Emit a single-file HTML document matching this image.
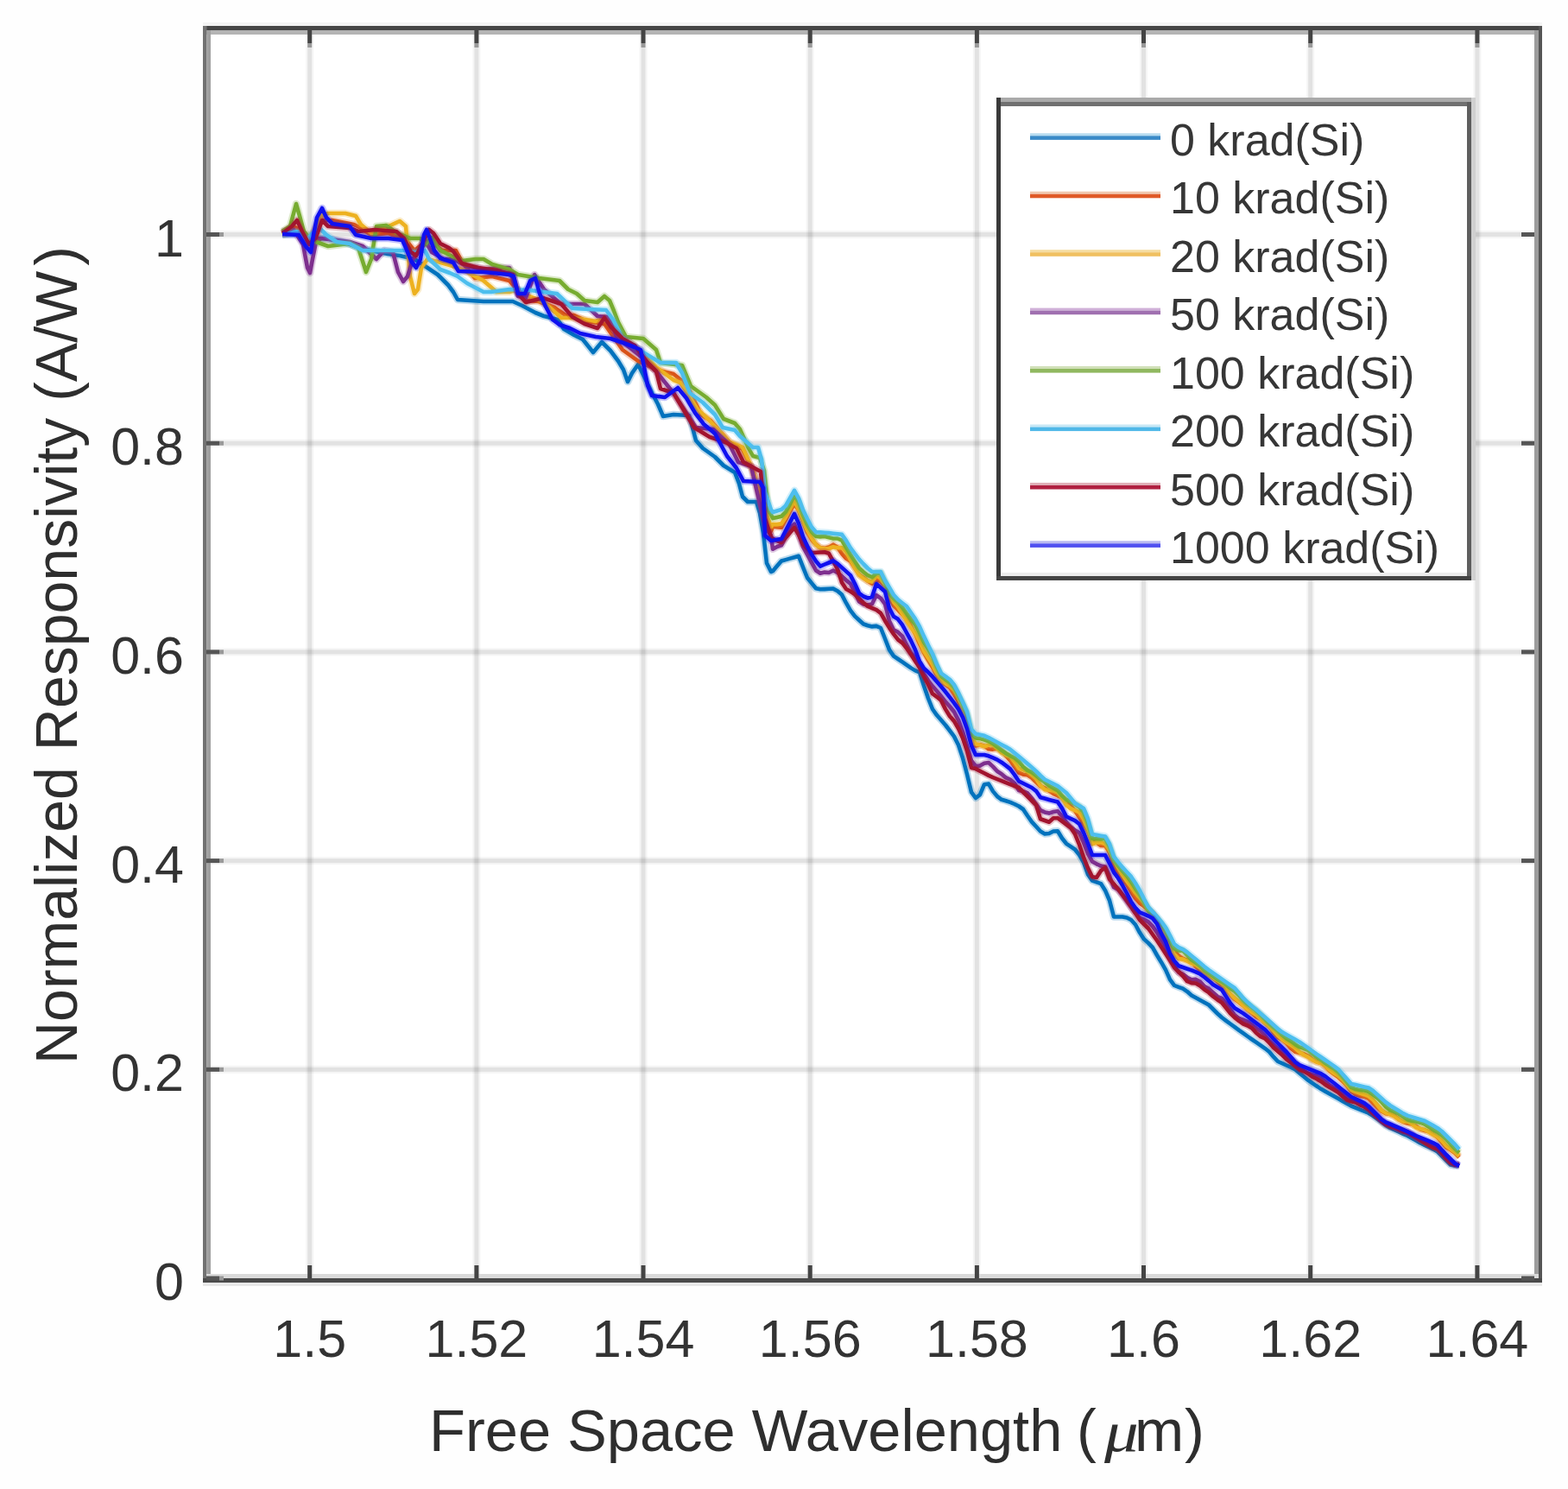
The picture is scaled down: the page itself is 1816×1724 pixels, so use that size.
<!DOCTYPE html><html><head><meta charset="utf-8"><style>html,body{margin:0;padding:0;background:#fff;overflow:hidden}svg{display:block}</style></head><body><svg width="1816" height="1724" viewBox="0 0 1816 1724">
<rect x="0" y="0" width="1816" height="1724" fill="#fefefe"/>
<rect x="239" y="35" width="1543" height="1445" fill="#ffffff"/>
<rect x="354.2" y="40" width="9" height="1435" fill="#000" fill-opacity="0.04"/><rect x="356.2" y="40" width="5" height="1435" fill="#000" fill-opacity="0.075"/><rect x="547.4" y="40" width="9" height="1435" fill="#000" fill-opacity="0.04"/><rect x="549.4" y="40" width="5" height="1435" fill="#000" fill-opacity="0.075"/><rect x="740.5" y="40" width="9" height="1435" fill="#000" fill-opacity="0.04"/><rect x="742.5" y="40" width="5" height="1435" fill="#000" fill-opacity="0.075"/><rect x="933.7" y="40" width="9" height="1435" fill="#000" fill-opacity="0.04"/><rect x="935.7" y="40" width="5" height="1435" fill="#000" fill-opacity="0.075"/><rect x="1126.9" y="40" width="9" height="1435" fill="#000" fill-opacity="0.04"/><rect x="1128.9" y="40" width="5" height="1435" fill="#000" fill-opacity="0.075"/><rect x="1320.0" y="40" width="9" height="1435" fill="#000" fill-opacity="0.04"/><rect x="1322.0" y="40" width="5" height="1435" fill="#000" fill-opacity="0.075"/><rect x="1513.2" y="40" width="9" height="1435" fill="#000" fill-opacity="0.04"/><rect x="1515.2" y="40" width="5" height="1435" fill="#000" fill-opacity="0.075"/><rect x="1706.4" y="40" width="9" height="1435" fill="#000" fill-opacity="0.04"/><rect x="1708.4" y="40" width="5" height="1435" fill="#000" fill-opacity="0.075"/><rect x="244" y="1233.8" width="1533" height="9" fill="#000" fill-opacity="0.04"/><rect x="244" y="1235.8" width="1533" height="5" fill="#000" fill-opacity="0.075"/><rect x="244" y="992.1" width="1533" height="9" fill="#000" fill-opacity="0.04"/><rect x="244" y="994.1" width="1533" height="5" fill="#000" fill-opacity="0.075"/><rect x="244" y="750.4" width="1533" height="9" fill="#000" fill-opacity="0.04"/><rect x="244" y="752.4" width="1533" height="5" fill="#000" fill-opacity="0.075"/><rect x="244" y="508.7" width="1533" height="9" fill="#000" fill-opacity="0.04"/><rect x="244" y="510.7" width="1533" height="5" fill="#000" fill-opacity="0.075"/><rect x="244" y="267.0" width="1533" height="9" fill="#000" fill-opacity="0.04"/><rect x="244" y="269.0" width="1533" height="5" fill="#000" fill-opacity="0.075"/>
<g><path d="M327.0,272.0 L345.0,270.0 L358.0,278.0 L367.0,276.0 L378.0,276.0 L400.0,281.0 L420.0,288.0 L449.0,294.0 L463.0,296.0 L480.0,300.0 L495.0,310.0 L507.0,318.0 L513.0,324.0 L519.0,330.0 L525.0,338.0 L530.0,347.0 L560.0,349.0 L594.0,349.0 L605.0,354.0 L620.0,362.0 L630.0,366.0 L646.0,370.0 L653.0,381.0 L665.0,388.0 L675.0,393.0 L687.0,408.0 L697.0,396.0 L707.0,406.0 L716.0,418.0 L722.0,428.0 L727.0,442.0 L732.0,432.0 L739.0,422.0 L748.0,440.0 L755.0,455.0 L762.0,468.0 L768.0,482.0 L780.0,480.0 L798.0,481.0 L802.0,495.0 L806.0,510.0 L814.0,519.0 L828.0,529.0 L838.0,539.0 L851.0,547.0 L856.0,560.0 L860.0,575.0 L866.0,581.0 L876.0,581.0 L880.0,594.0 L884.0,617.0 L888.0,652.0 L893.0,662.0 L895.0,661.2 L900.0,655.3 L905.0,649.5 L910.0,648.1 L915.0,646.6 L920.0,645.2 L925.0,643.8 L930.0,656.6 L935.0,669.0 L940.0,675.1 L945.0,681.3 L950.0,682.3 L955.0,682.1 L960.0,681.8 L965.0,681.6 L970.0,684.2 L975.0,688.6 L980.0,698.2 L985.0,706.8 L990.0,713.4 L995.0,718.0 L1000.0,722.5 L1005.0,724.2 L1010.0,725.4 L1015.0,724.9 L1020.0,727.0 L1025.0,739.5 L1030.0,752.4 L1035.0,759.6 L1040.0,763.0 L1045.0,766.4 L1050.0,769.9 L1055.0,773.4 L1060.0,776.4 L1065.0,778.5 L1070.0,794.1 L1075.0,808.5 L1080.0,821.0 L1085.0,828.1 L1090.0,833.8 L1095.0,839.5 L1100.0,846.0 L1105.0,852.6 L1110.0,862.5 L1115.0,877.5 L1120.0,896.5 L1125.0,917.1 L1130.0,924.0 L1135.0,920.2 L1140.0,908.2 L1145.0,907.6 L1150.0,916.1 L1155.0,922.1 L1160.0,925.8 L1165.0,927.3 L1170.0,928.9 L1175.0,931.0 L1180.0,933.5 L1185.0,937.0 L1190.0,944.5 L1195.0,951.6 L1200.0,957.0 L1205.0,962.5 L1210.0,965.4 L1215.0,965.0 L1220.0,962.5 L1225.0,962.2 L1230.0,970.5 L1235.0,976.8 L1240.0,980.2 L1245.0,983.5 L1250.0,989.8 L1255.0,998.5 L1260.0,1012.5 L1265.0,1019.6 L1270.0,1021.4 L1275.0,1023.1 L1280.0,1030.9 L1285.0,1042.5 L1290.0,1061.5 L1295.0,1061.5 L1300.0,1061.5 L1305.0,1062.5 L1310.0,1065.0 L1315.0,1070.5 L1320.0,1079.8 L1325.0,1087.4 L1330.0,1091.9 L1335.0,1097.2 L1340.0,1106.0 L1345.0,1114.2 L1350.0,1122.9 L1355.0,1134.1 L1360.0,1140.9 L1365.0,1142.8 L1370.0,1144.7 L1375.0,1148.1 L1380.0,1152.5 L1385.0,1155.2 L1390.0,1158.0 L1395.0,1160.8 L1400.0,1163.5 L1405.0,1168.5 L1410.0,1173.5 L1415.0,1178.0 L1420.0,1181.8 L1425.0,1185.5 L1430.0,1189.2 L1435.0,1192.9 L1440.0,1196.4 L1445.0,1200.0 L1450.0,1203.5 L1455.0,1206.9 L1460.0,1210.3 L1465.0,1213.8 L1470.0,1217.7 L1475.0,1223.7 L1480.0,1229.0 L1485.0,1231.2 L1490.0,1233.5 L1495.0,1235.7 L1500.0,1238.3 L1505.0,1242.4 L1510.0,1246.6 L1515.0,1250.7 L1520.0,1254.2 L1525.0,1257.5 L1530.0,1260.8 L1535.0,1263.7 L1540.0,1266.5 L1545.0,1269.3 L1550.0,1272.1 L1555.0,1274.9 L1560.0,1277.7 L1565.0,1280.5 L1570.0,1282.5 L1575.0,1284.6 L1580.0,1286.6 L1585.0,1288.7 L1590.0,1291.8 L1595.0,1295.5 L1600.0,1299.2 L1605.0,1303.0 L1610.0,1305.9 L1615.0,1308.2 L1620.0,1310.5 L1625.0,1312.8 L1630.0,1315.0 L1635.0,1317.8 L1640.0,1320.6 L1645.0,1323.5 L1650.0,1325.9 L1655.0,1328.2 L1660.0,1330.6 L1665.0,1333.5 L1670.0,1338.5 L1675.0,1343.5 L1680.0,1348.5 L1685.0,1349.5 L1690.0,1349.5" fill="none" stroke="#0072BD" stroke-opacity="0.25" stroke-width="8.5" stroke-linejoin="round"/><path d="M327.0,272.0 L345.0,270.0 L358.0,278.0 L367.0,276.0 L378.0,276.0 L400.0,281.0 L420.0,288.0 L449.0,294.0 L463.0,296.0 L480.0,300.0 L495.0,310.0 L507.0,318.0 L513.0,324.0 L519.0,330.0 L525.0,338.0 L530.0,347.0 L560.0,349.0 L594.0,349.0 L605.0,354.0 L620.0,362.0 L630.0,366.0 L646.0,370.0 L653.0,381.0 L665.0,388.0 L675.0,393.0 L687.0,408.0 L697.0,396.0 L707.0,406.0 L716.0,418.0 L722.0,428.0 L727.0,442.0 L732.0,432.0 L739.0,422.0 L748.0,440.0 L755.0,455.0 L762.0,468.0 L768.0,482.0 L780.0,480.0 L798.0,481.0 L802.0,495.0 L806.0,510.0 L814.0,519.0 L828.0,529.0 L838.0,539.0 L851.0,547.0 L856.0,560.0 L860.0,575.0 L866.0,581.0 L876.0,581.0 L880.0,594.0 L884.0,617.0 L888.0,652.0 L893.0,662.0 L895.0,661.2 L900.0,655.3 L905.0,649.5 L910.0,648.1 L915.0,646.6 L920.0,645.2 L925.0,643.8 L930.0,656.6 L935.0,669.0 L940.0,675.1 L945.0,681.3 L950.0,682.3 L955.0,682.1 L960.0,681.8 L965.0,681.6 L970.0,684.2 L975.0,688.6 L980.0,698.2 L985.0,706.8 L990.0,713.4 L995.0,718.0 L1000.0,722.5 L1005.0,724.2 L1010.0,725.4 L1015.0,724.9 L1020.0,727.0 L1025.0,739.5 L1030.0,752.4 L1035.0,759.6 L1040.0,763.0 L1045.0,766.4 L1050.0,769.9 L1055.0,773.4 L1060.0,776.4 L1065.0,778.5 L1070.0,794.1 L1075.0,808.5 L1080.0,821.0 L1085.0,828.1 L1090.0,833.8 L1095.0,839.5 L1100.0,846.0 L1105.0,852.6 L1110.0,862.5 L1115.0,877.5 L1120.0,896.5 L1125.0,917.1 L1130.0,924.0 L1135.0,920.2 L1140.0,908.2 L1145.0,907.6 L1150.0,916.1 L1155.0,922.1 L1160.0,925.8 L1165.0,927.3 L1170.0,928.9 L1175.0,931.0 L1180.0,933.5 L1185.0,937.0 L1190.0,944.5 L1195.0,951.6 L1200.0,957.0 L1205.0,962.5 L1210.0,965.4 L1215.0,965.0 L1220.0,962.5 L1225.0,962.2 L1230.0,970.5 L1235.0,976.8 L1240.0,980.2 L1245.0,983.5 L1250.0,989.8 L1255.0,998.5 L1260.0,1012.5 L1265.0,1019.6 L1270.0,1021.4 L1275.0,1023.1 L1280.0,1030.9 L1285.0,1042.5 L1290.0,1061.5 L1295.0,1061.5 L1300.0,1061.5 L1305.0,1062.5 L1310.0,1065.0 L1315.0,1070.5 L1320.0,1079.8 L1325.0,1087.4 L1330.0,1091.9 L1335.0,1097.2 L1340.0,1106.0 L1345.0,1114.2 L1350.0,1122.9 L1355.0,1134.1 L1360.0,1140.9 L1365.0,1142.8 L1370.0,1144.7 L1375.0,1148.1 L1380.0,1152.5 L1385.0,1155.2 L1390.0,1158.0 L1395.0,1160.8 L1400.0,1163.5 L1405.0,1168.5 L1410.0,1173.5 L1415.0,1178.0 L1420.0,1181.8 L1425.0,1185.5 L1430.0,1189.2 L1435.0,1192.9 L1440.0,1196.4 L1445.0,1200.0 L1450.0,1203.5 L1455.0,1206.9 L1460.0,1210.3 L1465.0,1213.8 L1470.0,1217.7 L1475.0,1223.7 L1480.0,1229.0 L1485.0,1231.2 L1490.0,1233.5 L1495.0,1235.7 L1500.0,1238.3 L1505.0,1242.4 L1510.0,1246.6 L1515.0,1250.7 L1520.0,1254.2 L1525.0,1257.5 L1530.0,1260.8 L1535.0,1263.7 L1540.0,1266.5 L1545.0,1269.3 L1550.0,1272.1 L1555.0,1274.9 L1560.0,1277.7 L1565.0,1280.5 L1570.0,1282.5 L1575.0,1284.6 L1580.0,1286.6 L1585.0,1288.7 L1590.0,1291.8 L1595.0,1295.5 L1600.0,1299.2 L1605.0,1303.0 L1610.0,1305.9 L1615.0,1308.2 L1620.0,1310.5 L1625.0,1312.8 L1630.0,1315.0 L1635.0,1317.8 L1640.0,1320.6 L1645.0,1323.5 L1650.0,1325.9 L1655.0,1328.2 L1660.0,1330.6 L1665.0,1333.5 L1670.0,1338.5 L1675.0,1343.5 L1680.0,1348.5 L1685.0,1349.5 L1690.0,1349.5" fill="none" stroke="#0072BD" stroke-width="4.6" stroke-linejoin="round"/><path d="M327.0,270.0 L340.0,262.0 L350.0,268.0 L358.0,282.0 L366.0,264.0 L373.0,255.0 L385.0,255.0 L410.0,260.0 L418.0,264.0 L430.0,272.0 L450.0,270.0 L470.0,278.0 L480.0,290.0 L490.0,282.0 L500.0,280.0 L512.0,290.0 L528.0,290.0 L536.0,305.0 L550.0,322.0 L570.0,320.0 L590.0,325.0 L609.0,348.0 L624.0,349.0 L642.0,356.0 L655.0,365.0 L665.0,365.0 L680.0,372.0 L700.0,375.0 L721.0,405.0 L739.0,418.0 L760.0,428.0 L780.0,433.0 L795.0,445.0 L812.0,480.0 L823.0,487.0 L845.0,512.0 L860.0,520.0 L872.0,545.0 L886.0,600.0 L893.0,615.0 L895.0,609.8 L900.0,610.1 L905.0,610.7 L910.0,601.7 L915.0,592.0 L920.0,583.4 L925.0,590.7 L930.0,604.1 L935.0,616.0 L940.0,624.7 L945.0,630.4 L950.0,634.3 L955.0,634.9 L960.0,633.6 L965.0,630.6 L970.0,633.8 L975.0,641.0 L980.0,646.6 L985.0,649.7 L990.0,657.4 L995.0,665.3 L1000.0,668.6 L1005.0,672.6 L1010.0,675.9 L1015.0,671.0 L1020.0,673.4 L1025.0,678.9 L1030.0,691.7 L1035.0,700.8 L1040.0,706.1 L1045.0,711.5 L1050.0,716.8 L1055.0,724.8 L1060.0,734.2 L1065.0,745.6 L1070.0,755.7 L1075.0,764.4 L1080.0,772.6 L1085.0,781.5 L1090.0,789.7 L1095.0,792.5 L1100.0,796.1 L1105.0,803.4 L1110.0,812.5 L1115.0,823.5 L1120.0,837.4 L1125.0,857.4 L1130.0,863.5 L1135.0,862.2 L1140.0,863.7 L1145.0,867.3 L1150.0,867.6 L1155.0,866.8 L1160.0,869.6 L1165.0,875.0 L1170.0,880.5 L1175.0,887.3 L1180.0,894.7 L1185.0,896.7 L1190.0,897.3 L1195.0,900.5 L1200.0,905.5 L1205.0,910.3 L1210.0,912.4 L1215.0,915.7 L1220.0,918.9 L1225.0,921.3 L1230.0,923.3 L1235.0,927.4 L1240.0,933.1 L1245.0,938.8 L1250.0,946.1 L1255.0,954.2 L1260.0,962.2 L1265.0,974.4 L1270.0,975.7 L1275.0,979.0 L1280.0,979.1 L1285.0,986.9 L1290.0,1001.7 L1295.0,1011.1 L1300.0,1017.7 L1305.0,1024.1 L1310.0,1032.4 L1315.0,1040.1 L1320.0,1045.8 L1325.0,1049.2 L1330.0,1053.7 L1335.0,1057.3 L1340.0,1064.5 L1345.0,1075.0 L1350.0,1082.1 L1355.0,1092.4 L1360.0,1100.9 L1365.0,1106.6 L1370.0,1110.0 L1375.0,1111.6 L1380.0,1114.2 L1385.0,1119.0 L1390.0,1123.4 L1395.0,1127.3 L1400.0,1129.4 L1405.0,1132.1 L1410.0,1136.6 L1415.0,1141.0 L1420.0,1146.2 L1425.0,1151.8 L1430.0,1156.9 L1435.0,1160.4 L1440.0,1164.6 L1445.0,1169.0 L1450.0,1172.8 L1455.0,1177.3 L1460.0,1180.0 L1465.0,1182.3 L1470.0,1188.0 L1475.0,1195.7 L1480.0,1201.2 L1485.0,1203.7 L1490.0,1207.9 L1495.0,1213.8 L1500.0,1217.7 L1505.0,1219.1 L1510.0,1220.3 L1515.0,1222.7 L1520.0,1226.5 L1525.0,1229.2 L1530.0,1230.7 L1535.0,1234.5 L1540.0,1239.8 L1545.0,1243.6 L1550.0,1247.0 L1555.0,1251.8 L1560.0,1257.2 L1565.0,1263.7 L1570.0,1267.1 L1575.0,1268.9 L1580.0,1269.6 L1585.0,1271.9 L1590.0,1276.8 L1595.0,1282.0 L1600.0,1286.5 L1605.0,1289.2 L1610.0,1289.9 L1615.0,1291.9 L1620.0,1295.9 L1625.0,1298.8 L1630.0,1300.5 L1635.0,1301.5 L1640.0,1303.9 L1645.0,1307.5 L1650.0,1309.0 L1655.0,1310.2 L1660.0,1313.3 L1665.0,1316.9 L1670.0,1322.4 L1675.0,1328.2 L1680.0,1331.4 L1685.0,1334.8 L1690.0,1339.9" fill="none" stroke="#D95319" stroke-opacity="0.25" stroke-width="8.5" stroke-linejoin="round"/><path d="M327.0,270.0 L340.0,262.0 L350.0,268.0 L358.0,282.0 L366.0,264.0 L373.0,255.0 L385.0,255.0 L410.0,260.0 L418.0,264.0 L430.0,272.0 L450.0,270.0 L470.0,278.0 L480.0,290.0 L490.0,282.0 L500.0,280.0 L512.0,290.0 L528.0,290.0 L536.0,305.0 L550.0,322.0 L570.0,320.0 L590.0,325.0 L609.0,348.0 L624.0,349.0 L642.0,356.0 L655.0,365.0 L665.0,365.0 L680.0,372.0 L700.0,375.0 L721.0,405.0 L739.0,418.0 L760.0,428.0 L780.0,433.0 L795.0,445.0 L812.0,480.0 L823.0,487.0 L845.0,512.0 L860.0,520.0 L872.0,545.0 L886.0,600.0 L893.0,615.0 L895.0,609.8 L900.0,610.1 L905.0,610.7 L910.0,601.7 L915.0,592.0 L920.0,583.4 L925.0,590.7 L930.0,604.1 L935.0,616.0 L940.0,624.7 L945.0,630.4 L950.0,634.3 L955.0,634.9 L960.0,633.6 L965.0,630.6 L970.0,633.8 L975.0,641.0 L980.0,646.6 L985.0,649.7 L990.0,657.4 L995.0,665.3 L1000.0,668.6 L1005.0,672.6 L1010.0,675.9 L1015.0,671.0 L1020.0,673.4 L1025.0,678.9 L1030.0,691.7 L1035.0,700.8 L1040.0,706.1 L1045.0,711.5 L1050.0,716.8 L1055.0,724.8 L1060.0,734.2 L1065.0,745.6 L1070.0,755.7 L1075.0,764.4 L1080.0,772.6 L1085.0,781.5 L1090.0,789.7 L1095.0,792.5 L1100.0,796.1 L1105.0,803.4 L1110.0,812.5 L1115.0,823.5 L1120.0,837.4 L1125.0,857.4 L1130.0,863.5 L1135.0,862.2 L1140.0,863.7 L1145.0,867.3 L1150.0,867.6 L1155.0,866.8 L1160.0,869.6 L1165.0,875.0 L1170.0,880.5 L1175.0,887.3 L1180.0,894.7 L1185.0,896.7 L1190.0,897.3 L1195.0,900.5 L1200.0,905.5 L1205.0,910.3 L1210.0,912.4 L1215.0,915.7 L1220.0,918.9 L1225.0,921.3 L1230.0,923.3 L1235.0,927.4 L1240.0,933.1 L1245.0,938.8 L1250.0,946.1 L1255.0,954.2 L1260.0,962.2 L1265.0,974.4 L1270.0,975.7 L1275.0,979.0 L1280.0,979.1 L1285.0,986.9 L1290.0,1001.7 L1295.0,1011.1 L1300.0,1017.7 L1305.0,1024.1 L1310.0,1032.4 L1315.0,1040.1 L1320.0,1045.8 L1325.0,1049.2 L1330.0,1053.7 L1335.0,1057.3 L1340.0,1064.5 L1345.0,1075.0 L1350.0,1082.1 L1355.0,1092.4 L1360.0,1100.9 L1365.0,1106.6 L1370.0,1110.0 L1375.0,1111.6 L1380.0,1114.2 L1385.0,1119.0 L1390.0,1123.4 L1395.0,1127.3 L1400.0,1129.4 L1405.0,1132.1 L1410.0,1136.6 L1415.0,1141.0 L1420.0,1146.2 L1425.0,1151.8 L1430.0,1156.9 L1435.0,1160.4 L1440.0,1164.6 L1445.0,1169.0 L1450.0,1172.8 L1455.0,1177.3 L1460.0,1180.0 L1465.0,1182.3 L1470.0,1188.0 L1475.0,1195.7 L1480.0,1201.2 L1485.0,1203.7 L1490.0,1207.9 L1495.0,1213.8 L1500.0,1217.7 L1505.0,1219.1 L1510.0,1220.3 L1515.0,1222.7 L1520.0,1226.5 L1525.0,1229.2 L1530.0,1230.7 L1535.0,1234.5 L1540.0,1239.8 L1545.0,1243.6 L1550.0,1247.0 L1555.0,1251.8 L1560.0,1257.2 L1565.0,1263.7 L1570.0,1267.1 L1575.0,1268.9 L1580.0,1269.6 L1585.0,1271.9 L1590.0,1276.8 L1595.0,1282.0 L1600.0,1286.5 L1605.0,1289.2 L1610.0,1289.9 L1615.0,1291.9 L1620.0,1295.9 L1625.0,1298.8 L1630.0,1300.5 L1635.0,1301.5 L1640.0,1303.9 L1645.0,1307.5 L1650.0,1309.0 L1655.0,1310.2 L1660.0,1313.3 L1665.0,1316.9 L1670.0,1322.4 L1675.0,1328.2 L1680.0,1331.4 L1685.0,1334.8 L1690.0,1339.9" fill="none" stroke="#D95319" stroke-width="4.6" stroke-linejoin="round"/><path d="M327.0,272.0 L340.0,268.0 L350.0,272.0 L358.0,280.0 L366.0,262.0 L372.0,250.0 L380.0,247.0 L400.0,247.0 L412.0,250.0 L418.0,260.0 L430.0,270.0 L450.0,262.0 L463.0,256.0 L470.0,262.0 L475.0,320.0 L480.0,340.0 L484.0,335.0 L488.0,310.0 L495.0,300.0 L507.0,303.0 L521.0,307.0 L535.0,312.0 L560.0,325.0 L575.0,338.0 L590.0,338.0 L600.0,335.0 L613.0,343.0 L630.0,350.0 L650.0,368.0 L663.0,368.0 L677.0,370.0 L690.0,372.0 L700.0,368.0 L720.0,390.0 L740.0,405.0 L760.0,425.0 L780.0,440.0 L788.0,443.0 L808.0,474.0 L820.0,485.0 L845.0,512.0 L860.0,518.0 L872.0,545.0 L886.0,590.0 L893.0,610.0 L895.0,607.0 L900.0,607.1 L905.0,606.4 L910.0,598.7 L915.0,588.9 L920.0,579.8 L925.0,589.9 L930.0,604.4 L935.0,613.9 L940.0,622.8 L945.0,630.6 L950.0,634.5 L955.0,635.6 L960.0,635.0 L965.0,633.3 L970.0,634.3 L975.0,634.0 L980.0,638.8 L985.0,647.9 L990.0,657.3 L995.0,665.7 L1000.0,669.5 L1005.0,672.5 L1010.0,673.6 L1015.0,666.1 L1020.0,669.5 L1025.0,678.2 L1030.0,689.7 L1035.0,696.9 L1040.0,702.5 L1045.0,710.5 L1050.0,718.7 L1055.0,726.5 L1060.0,733.1 L1065.0,742.8 L1070.0,754.0 L1075.0,761.7 L1080.0,769.3 L1085.0,780.0 L1090.0,788.8 L1095.0,791.6 L1100.0,794.0 L1105.0,798.7 L1110.0,807.2 L1115.0,819.6 L1120.0,833.9 L1125.0,854.7 L1130.0,861.6 L1135.0,862.6 L1140.0,864.3 L1145.0,862.5 L1150.0,862.3 L1155.0,866.7 L1160.0,871.5 L1165.0,874.0 L1170.0,875.9 L1175.0,882.2 L1180.0,889.8 L1185.0,891.4 L1190.0,893.1 L1195.0,897.2 L1200.0,901.5 L1205.0,909.4 L1210.0,914.2 L1215.0,914.7 L1220.0,915.6 L1225.0,917.5 L1230.0,923.9 L1235.0,932.1 L1240.0,936.1 L1245.0,938.1 L1250.0,940.4 L1255.0,948.3 L1260.0,962.2 L1265.0,977.4 L1270.0,975.4 L1275.0,975.3 L1280.0,977.0 L1285.0,984.3 L1290.0,996.0 L1295.0,1004.7 L1300.0,1013.3 L1305.0,1020.0 L1310.0,1026.4 L1315.0,1033.6 L1320.0,1039.5 L1325.0,1044.9 L1330.0,1052.2 L1335.0,1058.0 L1340.0,1065.0 L1345.0,1074.3 L1350.0,1083.4 L1355.0,1095.4 L1360.0,1105.0 L1365.0,1110.0 L1370.0,1110.6 L1375.0,1112.6 L1380.0,1115.6 L1385.0,1116.9 L1390.0,1120.7 L1395.0,1126.1 L1400.0,1129.6 L1405.0,1132.8 L1410.0,1135.3 L1415.0,1138.6 L1420.0,1145.1 L1425.0,1151.4 L1430.0,1155.8 L1435.0,1159.7 L1440.0,1164.2 L1445.0,1168.9 L1450.0,1172.2 L1455.0,1174.9 L1460.0,1179.7 L1465.0,1184.8 L1470.0,1188.9 L1475.0,1193.9 L1480.0,1199.2 L1485.0,1203.5 L1490.0,1206.7 L1495.0,1209.9 L1500.0,1213.5 L1505.0,1218.0 L1510.0,1221.5 L1515.0,1223.8 L1520.0,1227.1 L1525.0,1229.7 L1530.0,1231.0 L1535.0,1233.9 L1540.0,1238.9 L1545.0,1242.6 L1550.0,1245.6 L1555.0,1250.1 L1560.0,1255.9 L1565.0,1262.1 L1570.0,1263.9 L1575.0,1265.6 L1580.0,1267.2 L1585.0,1269.2 L1590.0,1273.1 L1595.0,1279.2 L1600.0,1285.5 L1605.0,1288.6 L1610.0,1290.1 L1615.0,1292.5 L1620.0,1296.2 L1625.0,1298.5 L1630.0,1298.5 L1635.0,1300.9 L1640.0,1305.3 L1645.0,1307.0 L1650.0,1307.9 L1655.0,1310.8 L1660.0,1313.9 L1665.0,1316.3 L1670.0,1320.8 L1675.0,1326.7 L1680.0,1330.4 L1685.0,1333.9 L1690.0,1338.5" fill="none" stroke="#EDB120" stroke-opacity="0.25" stroke-width="8.5" stroke-linejoin="round"/><path d="M327.0,272.0 L340.0,268.0 L350.0,272.0 L358.0,280.0 L366.0,262.0 L372.0,250.0 L380.0,247.0 L400.0,247.0 L412.0,250.0 L418.0,260.0 L430.0,270.0 L450.0,262.0 L463.0,256.0 L470.0,262.0 L475.0,320.0 L480.0,340.0 L484.0,335.0 L488.0,310.0 L495.0,300.0 L507.0,303.0 L521.0,307.0 L535.0,312.0 L560.0,325.0 L575.0,338.0 L590.0,338.0 L600.0,335.0 L613.0,343.0 L630.0,350.0 L650.0,368.0 L663.0,368.0 L677.0,370.0 L690.0,372.0 L700.0,368.0 L720.0,390.0 L740.0,405.0 L760.0,425.0 L780.0,440.0 L788.0,443.0 L808.0,474.0 L820.0,485.0 L845.0,512.0 L860.0,518.0 L872.0,545.0 L886.0,590.0 L893.0,610.0 L895.0,607.0 L900.0,607.1 L905.0,606.4 L910.0,598.7 L915.0,588.9 L920.0,579.8 L925.0,589.9 L930.0,604.4 L935.0,613.9 L940.0,622.8 L945.0,630.6 L950.0,634.5 L955.0,635.6 L960.0,635.0 L965.0,633.3 L970.0,634.3 L975.0,634.0 L980.0,638.8 L985.0,647.9 L990.0,657.3 L995.0,665.7 L1000.0,669.5 L1005.0,672.5 L1010.0,673.6 L1015.0,666.1 L1020.0,669.5 L1025.0,678.2 L1030.0,689.7 L1035.0,696.9 L1040.0,702.5 L1045.0,710.5 L1050.0,718.7 L1055.0,726.5 L1060.0,733.1 L1065.0,742.8 L1070.0,754.0 L1075.0,761.7 L1080.0,769.3 L1085.0,780.0 L1090.0,788.8 L1095.0,791.6 L1100.0,794.0 L1105.0,798.7 L1110.0,807.2 L1115.0,819.6 L1120.0,833.9 L1125.0,854.7 L1130.0,861.6 L1135.0,862.6 L1140.0,864.3 L1145.0,862.5 L1150.0,862.3 L1155.0,866.7 L1160.0,871.5 L1165.0,874.0 L1170.0,875.9 L1175.0,882.2 L1180.0,889.8 L1185.0,891.4 L1190.0,893.1 L1195.0,897.2 L1200.0,901.5 L1205.0,909.4 L1210.0,914.2 L1215.0,914.7 L1220.0,915.6 L1225.0,917.5 L1230.0,923.9 L1235.0,932.1 L1240.0,936.1 L1245.0,938.1 L1250.0,940.4 L1255.0,948.3 L1260.0,962.2 L1265.0,977.4 L1270.0,975.4 L1275.0,975.3 L1280.0,977.0 L1285.0,984.3 L1290.0,996.0 L1295.0,1004.7 L1300.0,1013.3 L1305.0,1020.0 L1310.0,1026.4 L1315.0,1033.6 L1320.0,1039.5 L1325.0,1044.9 L1330.0,1052.2 L1335.0,1058.0 L1340.0,1065.0 L1345.0,1074.3 L1350.0,1083.4 L1355.0,1095.4 L1360.0,1105.0 L1365.0,1110.0 L1370.0,1110.6 L1375.0,1112.6 L1380.0,1115.6 L1385.0,1116.9 L1390.0,1120.7 L1395.0,1126.1 L1400.0,1129.6 L1405.0,1132.8 L1410.0,1135.3 L1415.0,1138.6 L1420.0,1145.1 L1425.0,1151.4 L1430.0,1155.8 L1435.0,1159.7 L1440.0,1164.2 L1445.0,1168.9 L1450.0,1172.2 L1455.0,1174.9 L1460.0,1179.7 L1465.0,1184.8 L1470.0,1188.9 L1475.0,1193.9 L1480.0,1199.2 L1485.0,1203.5 L1490.0,1206.7 L1495.0,1209.9 L1500.0,1213.5 L1505.0,1218.0 L1510.0,1221.5 L1515.0,1223.8 L1520.0,1227.1 L1525.0,1229.7 L1530.0,1231.0 L1535.0,1233.9 L1540.0,1238.9 L1545.0,1242.6 L1550.0,1245.6 L1555.0,1250.1 L1560.0,1255.9 L1565.0,1262.1 L1570.0,1263.9 L1575.0,1265.6 L1580.0,1267.2 L1585.0,1269.2 L1590.0,1273.1 L1595.0,1279.2 L1600.0,1285.5 L1605.0,1288.6 L1610.0,1290.1 L1615.0,1292.5 L1620.0,1296.2 L1625.0,1298.5 L1630.0,1298.5 L1635.0,1300.9 L1640.0,1305.3 L1645.0,1307.0 L1650.0,1307.9 L1655.0,1310.8 L1660.0,1313.9 L1665.0,1316.3 L1670.0,1320.8 L1675.0,1326.7 L1680.0,1330.4 L1685.0,1333.9 L1690.0,1338.5" fill="none" stroke="#EDB120" stroke-width="4.6" stroke-linejoin="round"/><path d="M327.0,268.0 L340.0,266.0 L351.0,283.0 L356.0,310.0 L359.0,316.0 L362.0,300.0 L366.0,280.0 L372.0,276.0 L390.0,278.0 L405.0,280.0 L420.0,285.0 L436.0,300.0 L445.0,290.0 L455.0,292.0 L461.0,315.0 L467.0,326.0 L472.0,320.0 L478.0,300.0 L486.0,290.0 L493.0,280.0 L500.0,292.0 L514.0,300.0 L525.0,300.0 L540.0,308.0 L560.0,312.0 L580.0,310.0 L590.0,310.0 L600.0,343.0 L609.0,345.0 L619.0,318.0 L630.0,335.0 L650.0,352.0 L665.0,352.0 L677.0,352.0 L692.0,366.0 L705.0,367.0 L715.0,392.0 L726.0,400.0 L745.0,415.0 L760.0,430.0 L780.0,455.0 L806.0,495.0 L826.0,497.0 L845.0,515.0 L855.0,535.0 L870.0,540.0 L886.0,610.0 L893.0,620.0 L895.0,635.8 L900.0,633.0 L905.0,631.3 L910.0,622.0 L915.0,611.1 L920.0,606.6 L925.0,618.8 L930.0,633.1 L935.0,642.1 L940.0,651.3 L945.0,660.5 L950.0,663.7 L955.0,662.6 L960.0,663.0 L965.0,660.6 L970.0,662.9 L975.0,667.1 L980.0,671.8 L985.0,676.0 L990.0,685.9 L995.0,696.6 L1000.0,699.5 L1005.0,700.4 L1010.0,699.3 L1015.0,689.2 L1020.0,692.7 L1025.0,699.5 L1030.0,719.1 L1035.0,729.3 L1040.0,731.8 L1045.0,736.6 L1050.0,746.5 L1055.0,756.2 L1060.0,761.4 L1065.0,769.0 L1070.0,780.2 L1075.0,787.8 L1080.0,794.3 L1085.0,800.0 L1090.0,806.0 L1095.0,812.4 L1100.0,818.0 L1105.0,824.3 L1110.0,833.9 L1115.0,847.2 L1120.0,864.0 L1125.0,880.6 L1130.0,887.0 L1135.0,886.6 L1140.0,883.8 L1145.0,883.0 L1150.0,887.6 L1155.0,893.0 L1160.0,896.2 L1165.0,900.4 L1170.0,902.6 L1175.0,907.0 L1180.0,915.0 L1185.0,916.2 L1190.0,918.1 L1195.0,924.2 L1200.0,931.1 L1205.0,938.1 L1210.0,940.4 L1215.0,941.6 L1220.0,940.0 L1225.0,939.2 L1230.0,944.9 L1235.0,952.0 L1240.0,957.4 L1245.0,961.3 L1250.0,964.3 L1255.0,975.4 L1260.0,988.3 L1265.0,997.6 L1270.0,1000.3 L1275.0,1002.6 L1280.0,1003.5 L1285.0,1014.3 L1290.0,1027.3 L1295.0,1030.1 L1300.0,1036.7 L1305.0,1043.6 L1310.0,1050.5 L1315.0,1057.3 L1320.0,1062.9 L1325.0,1064.7 L1330.0,1067.6 L1335.0,1072.7 L1340.0,1079.7 L1345.0,1088.5 L1350.0,1096.3 L1355.0,1108.9 L1360.0,1119.1 L1365.0,1125.6 L1370.0,1127.9 L1375.0,1131.8 L1380.0,1134.2 L1385.0,1133.9 L1390.0,1136.6 L1395.0,1142.0 L1400.0,1144.6 L1405.0,1149.1 L1410.0,1153.8 L1415.0,1155.9 L1420.0,1161.4 L1425.0,1168.7 L1430.0,1175.3 L1435.0,1179.0 L1440.0,1181.0 L1445.0,1182.9 L1450.0,1186.6 L1455.0,1190.6 L1460.0,1193.8 L1465.0,1198.9 L1470.0,1204.9 L1475.0,1209.7 L1480.0,1214.4 L1485.0,1218.0 L1490.0,1221.9 L1495.0,1226.4 L1500.0,1230.8 L1505.0,1235.8 L1510.0,1240.1 L1515.0,1242.8 L1520.0,1244.3 L1525.0,1245.6 L1530.0,1248.1 L1535.0,1252.0 L1540.0,1256.4 L1545.0,1259.6 L1550.0,1262.7 L1555.0,1266.8 L1560.0,1269.9 L1565.0,1272.3 L1570.0,1274.2 L1575.0,1277.0 L1580.0,1279.1 L1585.0,1282.0 L1590.0,1287.0 L1595.0,1292.1 L1600.0,1297.0 L1605.0,1300.5 L1610.0,1302.6 L1615.0,1305.2 L1620.0,1307.5 L1625.0,1308.8 L1630.0,1310.3 L1635.0,1313.4 L1640.0,1317.1 L1645.0,1319.3 L1650.0,1321.2 L1655.0,1323.6 L1660.0,1325.7 L1665.0,1329.3 L1670.0,1334.5 L1675.0,1339.5 L1680.0,1345.0 L1685.0,1347.6 L1690.0,1349.2" fill="none" stroke="#7E2F8E" stroke-opacity="0.25" stroke-width="8.5" stroke-linejoin="round"/><path d="M327.0,268.0 L340.0,266.0 L351.0,283.0 L356.0,310.0 L359.0,316.0 L362.0,300.0 L366.0,280.0 L372.0,276.0 L390.0,278.0 L405.0,280.0 L420.0,285.0 L436.0,300.0 L445.0,290.0 L455.0,292.0 L461.0,315.0 L467.0,326.0 L472.0,320.0 L478.0,300.0 L486.0,290.0 L493.0,280.0 L500.0,292.0 L514.0,300.0 L525.0,300.0 L540.0,308.0 L560.0,312.0 L580.0,310.0 L590.0,310.0 L600.0,343.0 L609.0,345.0 L619.0,318.0 L630.0,335.0 L650.0,352.0 L665.0,352.0 L677.0,352.0 L692.0,366.0 L705.0,367.0 L715.0,392.0 L726.0,400.0 L745.0,415.0 L760.0,430.0 L780.0,455.0 L806.0,495.0 L826.0,497.0 L845.0,515.0 L855.0,535.0 L870.0,540.0 L886.0,610.0 L893.0,620.0 L895.0,635.8 L900.0,633.0 L905.0,631.3 L910.0,622.0 L915.0,611.1 L920.0,606.6 L925.0,618.8 L930.0,633.1 L935.0,642.1 L940.0,651.3 L945.0,660.5 L950.0,663.7 L955.0,662.6 L960.0,663.0 L965.0,660.6 L970.0,662.9 L975.0,667.1 L980.0,671.8 L985.0,676.0 L990.0,685.9 L995.0,696.6 L1000.0,699.5 L1005.0,700.4 L1010.0,699.3 L1015.0,689.2 L1020.0,692.7 L1025.0,699.5 L1030.0,719.1 L1035.0,729.3 L1040.0,731.8 L1045.0,736.6 L1050.0,746.5 L1055.0,756.2 L1060.0,761.4 L1065.0,769.0 L1070.0,780.2 L1075.0,787.8 L1080.0,794.3 L1085.0,800.0 L1090.0,806.0 L1095.0,812.4 L1100.0,818.0 L1105.0,824.3 L1110.0,833.9 L1115.0,847.2 L1120.0,864.0 L1125.0,880.6 L1130.0,887.0 L1135.0,886.6 L1140.0,883.8 L1145.0,883.0 L1150.0,887.6 L1155.0,893.0 L1160.0,896.2 L1165.0,900.4 L1170.0,902.6 L1175.0,907.0 L1180.0,915.0 L1185.0,916.2 L1190.0,918.1 L1195.0,924.2 L1200.0,931.1 L1205.0,938.1 L1210.0,940.4 L1215.0,941.6 L1220.0,940.0 L1225.0,939.2 L1230.0,944.9 L1235.0,952.0 L1240.0,957.4 L1245.0,961.3 L1250.0,964.3 L1255.0,975.4 L1260.0,988.3 L1265.0,997.6 L1270.0,1000.3 L1275.0,1002.6 L1280.0,1003.5 L1285.0,1014.3 L1290.0,1027.3 L1295.0,1030.1 L1300.0,1036.7 L1305.0,1043.6 L1310.0,1050.5 L1315.0,1057.3 L1320.0,1062.9 L1325.0,1064.7 L1330.0,1067.6 L1335.0,1072.7 L1340.0,1079.7 L1345.0,1088.5 L1350.0,1096.3 L1355.0,1108.9 L1360.0,1119.1 L1365.0,1125.6 L1370.0,1127.9 L1375.0,1131.8 L1380.0,1134.2 L1385.0,1133.9 L1390.0,1136.6 L1395.0,1142.0 L1400.0,1144.6 L1405.0,1149.1 L1410.0,1153.8 L1415.0,1155.9 L1420.0,1161.4 L1425.0,1168.7 L1430.0,1175.3 L1435.0,1179.0 L1440.0,1181.0 L1445.0,1182.9 L1450.0,1186.6 L1455.0,1190.6 L1460.0,1193.8 L1465.0,1198.9 L1470.0,1204.9 L1475.0,1209.7 L1480.0,1214.4 L1485.0,1218.0 L1490.0,1221.9 L1495.0,1226.4 L1500.0,1230.8 L1505.0,1235.8 L1510.0,1240.1 L1515.0,1242.8 L1520.0,1244.3 L1525.0,1245.6 L1530.0,1248.1 L1535.0,1252.0 L1540.0,1256.4 L1545.0,1259.6 L1550.0,1262.7 L1555.0,1266.8 L1560.0,1269.9 L1565.0,1272.3 L1570.0,1274.2 L1575.0,1277.0 L1580.0,1279.1 L1585.0,1282.0 L1590.0,1287.0 L1595.0,1292.1 L1600.0,1297.0 L1605.0,1300.5 L1610.0,1302.6 L1615.0,1305.2 L1620.0,1307.5 L1625.0,1308.8 L1630.0,1310.3 L1635.0,1313.4 L1640.0,1317.1 L1645.0,1319.3 L1650.0,1321.2 L1655.0,1323.6 L1660.0,1325.7 L1665.0,1329.3 L1670.0,1334.5 L1675.0,1339.5 L1680.0,1345.0 L1685.0,1347.6 L1690.0,1349.2" fill="none" stroke="#7E2F8E" stroke-width="4.6" stroke-linejoin="round"/><path d="M327.0,268.0 L336.0,262.0 L343.0,236.0 L347.0,250.0 L352.0,268.0 L358.0,275.0 L366.0,280.0 L380.0,285.0 L405.0,282.0 L415.0,287.0 L424.0,315.0 L430.0,300.0 L436.0,262.0 L447.0,261.0 L460.0,270.0 L475.0,276.0 L487.0,276.0 L492.0,283.0 L500.0,275.0 L510.0,290.0 L520.0,295.0 L535.0,302.0 L551.0,300.0 L560.0,300.0 L570.0,306.0 L590.0,312.0 L600.0,318.0 L624.0,322.0 L648.0,325.0 L658.0,335.0 L668.0,340.0 L677.0,348.0 L692.0,350.0 L700.0,343.0 L706.0,348.0 L711.0,360.0 L716.0,373.0 L725.0,390.0 L745.0,392.0 L760.0,405.0 L765.0,420.0 L790.0,423.0 L800.0,447.0 L818.0,460.0 L828.0,469.0 L838.0,485.0 L851.0,490.0 L857.0,497.0 L867.0,519.0 L872.0,528.0 L880.0,530.0 L885.0,545.0 L890.0,590.0 L895.0,600.1 L900.0,599.0 L905.0,597.8 L910.0,592.6 L915.0,583.3 L920.0,573.0 L925.0,581.3 L930.0,596.0 L935.0,607.2 L940.0,615.8 L945.0,621.0 L950.0,621.4 L955.0,621.0 L960.0,622.3 L965.0,623.5 L970.0,623.5 L975.0,625.6 L980.0,634.1 L985.0,642.3 L990.0,650.1 L995.0,657.6 L1000.0,662.2 L1005.0,666.2 L1010.0,668.2 L1015.0,663.7 L1020.0,663.6 L1025.0,674.5 L1030.0,686.3 L1035.0,692.8 L1040.0,697.0 L1045.0,703.3 L1050.0,710.3 L1055.0,717.0 L1060.0,722.9 L1065.0,732.7 L1070.0,743.6 L1075.0,751.8 L1080.0,760.2 L1085.0,772.6 L1090.0,782.8 L1095.0,786.6 L1100.0,790.2 L1105.0,795.9 L1110.0,805.6 L1115.0,815.6 L1120.0,827.1 L1125.0,848.5 L1130.0,854.5 L1135.0,855.1 L1140.0,856.6 L1145.0,858.2 L1150.0,861.0 L1155.0,864.9 L1160.0,868.6 L1165.0,872.2 L1170.0,875.1 L1175.0,877.5 L1180.0,881.7 L1185.0,887.8 L1190.0,891.9 L1195.0,894.2 L1200.0,898.0 L1205.0,902.1 L1210.0,905.4 L1215.0,909.7 L1220.0,912.6 L1225.0,915.1 L1230.0,921.4 L1235.0,925.9 L1240.0,928.2 L1245.0,931.1 L1250.0,934.2 L1255.0,940.2 L1260.0,953.5 L1265.0,971.0 L1270.0,971.3 L1275.0,971.1 L1280.0,970.9 L1285.0,980.1 L1290.0,995.5 L1295.0,1002.3 L1300.0,1008.3 L1305.0,1014.0 L1310.0,1020.8 L1315.0,1028.8 L1320.0,1035.6 L1325.0,1044.7 L1330.0,1054.4 L1335.0,1058.7 L1340.0,1063.4 L1345.0,1069.7 L1350.0,1076.9 L1355.0,1088.7 L1360.0,1098.4 L1365.0,1100.4 L1370.0,1100.9 L1375.0,1105.8 L1380.0,1111.4 L1385.0,1114.5 L1390.0,1118.3 L1395.0,1123.2 L1400.0,1126.7 L1405.0,1130.1 L1410.0,1133.9 L1415.0,1136.7 L1420.0,1140.0 L1425.0,1144.3 L1430.0,1147.6 L1435.0,1152.5 L1440.0,1158.2 L1445.0,1162.7 L1450.0,1166.4 L1455.0,1170.2 L1460.0,1174.8 L1465.0,1180.1 L1470.0,1185.0 L1475.0,1189.4 L1480.0,1193.6 L1485.0,1198.3 L1490.0,1202.5 L1495.0,1205.5 L1500.0,1209.2 L1505.0,1212.4 L1510.0,1213.8 L1515.0,1216.0 L1520.0,1220.0 L1525.0,1223.8 L1530.0,1227.0 L1535.0,1230.8 L1540.0,1234.2 L1545.0,1237.3 L1550.0,1241.3 L1555.0,1246.8 L1560.0,1252.8 L1565.0,1259.0 L1570.0,1261.1 L1575.0,1261.9 L1580.0,1262.4 L1585.0,1264.0 L1590.0,1267.3 L1595.0,1271.1 L1600.0,1275.7 L1605.0,1281.5 L1610.0,1285.3 L1615.0,1287.2 L1620.0,1289.5 L1625.0,1292.8 L1630.0,1296.2 L1635.0,1297.8 L1640.0,1298.4 L1645.0,1299.7 L1650.0,1301.6 L1655.0,1304.7 L1660.0,1308.2 L1665.0,1311.0 L1670.0,1314.2 L1675.0,1318.9 L1680.0,1324.6 L1685.0,1329.8 L1690.0,1334.6" fill="none" stroke="#77AC30" stroke-opacity="0.25" stroke-width="8.5" stroke-linejoin="round"/><path d="M327.0,268.0 L336.0,262.0 L343.0,236.0 L347.0,250.0 L352.0,268.0 L358.0,275.0 L366.0,280.0 L380.0,285.0 L405.0,282.0 L415.0,287.0 L424.0,315.0 L430.0,300.0 L436.0,262.0 L447.0,261.0 L460.0,270.0 L475.0,276.0 L487.0,276.0 L492.0,283.0 L500.0,275.0 L510.0,290.0 L520.0,295.0 L535.0,302.0 L551.0,300.0 L560.0,300.0 L570.0,306.0 L590.0,312.0 L600.0,318.0 L624.0,322.0 L648.0,325.0 L658.0,335.0 L668.0,340.0 L677.0,348.0 L692.0,350.0 L700.0,343.0 L706.0,348.0 L711.0,360.0 L716.0,373.0 L725.0,390.0 L745.0,392.0 L760.0,405.0 L765.0,420.0 L790.0,423.0 L800.0,447.0 L818.0,460.0 L828.0,469.0 L838.0,485.0 L851.0,490.0 L857.0,497.0 L867.0,519.0 L872.0,528.0 L880.0,530.0 L885.0,545.0 L890.0,590.0 L895.0,600.1 L900.0,599.0 L905.0,597.8 L910.0,592.6 L915.0,583.3 L920.0,573.0 L925.0,581.3 L930.0,596.0 L935.0,607.2 L940.0,615.8 L945.0,621.0 L950.0,621.4 L955.0,621.0 L960.0,622.3 L965.0,623.5 L970.0,623.5 L975.0,625.6 L980.0,634.1 L985.0,642.3 L990.0,650.1 L995.0,657.6 L1000.0,662.2 L1005.0,666.2 L1010.0,668.2 L1015.0,663.7 L1020.0,663.6 L1025.0,674.5 L1030.0,686.3 L1035.0,692.8 L1040.0,697.0 L1045.0,703.3 L1050.0,710.3 L1055.0,717.0 L1060.0,722.9 L1065.0,732.7 L1070.0,743.6 L1075.0,751.8 L1080.0,760.2 L1085.0,772.6 L1090.0,782.8 L1095.0,786.6 L1100.0,790.2 L1105.0,795.9 L1110.0,805.6 L1115.0,815.6 L1120.0,827.1 L1125.0,848.5 L1130.0,854.5 L1135.0,855.1 L1140.0,856.6 L1145.0,858.2 L1150.0,861.0 L1155.0,864.9 L1160.0,868.6 L1165.0,872.2 L1170.0,875.1 L1175.0,877.5 L1180.0,881.7 L1185.0,887.8 L1190.0,891.9 L1195.0,894.2 L1200.0,898.0 L1205.0,902.1 L1210.0,905.4 L1215.0,909.7 L1220.0,912.6 L1225.0,915.1 L1230.0,921.4 L1235.0,925.9 L1240.0,928.2 L1245.0,931.1 L1250.0,934.2 L1255.0,940.2 L1260.0,953.5 L1265.0,971.0 L1270.0,971.3 L1275.0,971.1 L1280.0,970.9 L1285.0,980.1 L1290.0,995.5 L1295.0,1002.3 L1300.0,1008.3 L1305.0,1014.0 L1310.0,1020.8 L1315.0,1028.8 L1320.0,1035.6 L1325.0,1044.7 L1330.0,1054.4 L1335.0,1058.7 L1340.0,1063.4 L1345.0,1069.7 L1350.0,1076.9 L1355.0,1088.7 L1360.0,1098.4 L1365.0,1100.4 L1370.0,1100.9 L1375.0,1105.8 L1380.0,1111.4 L1385.0,1114.5 L1390.0,1118.3 L1395.0,1123.2 L1400.0,1126.7 L1405.0,1130.1 L1410.0,1133.9 L1415.0,1136.7 L1420.0,1140.0 L1425.0,1144.3 L1430.0,1147.6 L1435.0,1152.5 L1440.0,1158.2 L1445.0,1162.7 L1450.0,1166.4 L1455.0,1170.2 L1460.0,1174.8 L1465.0,1180.1 L1470.0,1185.0 L1475.0,1189.4 L1480.0,1193.6 L1485.0,1198.3 L1490.0,1202.5 L1495.0,1205.5 L1500.0,1209.2 L1505.0,1212.4 L1510.0,1213.8 L1515.0,1216.0 L1520.0,1220.0 L1525.0,1223.8 L1530.0,1227.0 L1535.0,1230.8 L1540.0,1234.2 L1545.0,1237.3 L1550.0,1241.3 L1555.0,1246.8 L1560.0,1252.8 L1565.0,1259.0 L1570.0,1261.1 L1575.0,1261.9 L1580.0,1262.4 L1585.0,1264.0 L1590.0,1267.3 L1595.0,1271.1 L1600.0,1275.7 L1605.0,1281.5 L1610.0,1285.3 L1615.0,1287.2 L1620.0,1289.5 L1625.0,1292.8 L1630.0,1296.2 L1635.0,1297.8 L1640.0,1298.4 L1645.0,1299.7 L1650.0,1301.6 L1655.0,1304.7 L1660.0,1308.2 L1665.0,1311.0 L1670.0,1314.2 L1675.0,1318.9 L1680.0,1324.6 L1685.0,1329.8 L1690.0,1334.6" fill="none" stroke="#77AC30" stroke-width="4.6" stroke-linejoin="round"/><path d="M327.0,271.0 L345.0,268.0 L355.0,278.0 L362.0,270.0 L371.0,265.0 L378.0,272.0 L390.0,280.0 L405.0,282.0 L420.0,290.0 L450.0,290.0 L468.0,290.0 L480.0,292.0 L492.0,290.0 L497.0,300.0 L510.0,312.0 L521.0,316.0 L530.0,320.0 L541.0,328.0 L560.0,338.0 L569.0,338.0 L590.0,335.0 L614.0,336.0 L629.0,338.0 L645.0,340.0 L663.0,357.0 L702.0,359.0 L710.0,370.0 L720.0,390.0 L740.0,405.0 L765.0,420.0 L783.0,420.0 L790.0,432.0 L799.0,455.0 L814.0,466.0 L828.0,480.0 L837.0,495.0 L851.0,498.0 L857.0,505.0 L872.0,518.0 L878.0,518.0 L882.0,532.0 L886.0,570.0 L893.0,590.0 L895.0,593.0 L900.0,591.5 L905.0,589.9 L910.0,585.5 L915.0,576.6 L920.0,567.8 L925.0,576.8 L930.0,590.3 L935.0,600.7 L940.0,610.2 L945.0,616.1 L950.0,616.4 L955.0,616.8 L960.0,617.1 L965.0,617.7 L970.0,618.3 L975.0,618.9 L980.0,625.8 L985.0,634.3 L990.0,641.2 L995.0,647.7 L1000.0,653.0 L1005.0,658.0 L1010.0,662.0 L1015.0,662.0 L1020.0,662.0 L1025.0,672.0 L1030.0,680.3 L1035.0,688.7 L1040.0,694.3 L1045.0,698.2 L1050.0,702.0 L1055.0,709.3 L1060.0,716.6 L1065.0,725.4 L1070.0,736.6 L1075.0,747.0 L1080.0,757.0 L1085.0,769.0 L1090.0,779.5 L1095.0,783.1 L1100.0,786.8 L1105.0,792.8 L1110.0,802.1 L1115.0,812.8 L1120.0,823.8 L1125.0,844.4 L1130.0,849.8 L1135.0,850.8 L1140.0,851.8 L1145.0,854.1 L1150.0,856.8 L1155.0,859.5 L1160.0,862.2 L1165.0,864.8 L1170.0,867.8 L1175.0,871.9 L1180.0,875.9 L1185.0,880.0 L1190.0,884.3 L1195.0,888.6 L1200.0,893.0 L1205.0,898.0 L1210.0,902.5 L1215.0,905.0 L1220.0,907.5 L1225.0,910.0 L1230.0,914.0 L1235.0,918.0 L1240.0,924.0 L1245.0,930.0 L1250.0,933.0 L1255.0,936.0 L1260.0,948.0 L1265.0,966.0 L1270.0,966.8 L1275.0,967.7 L1280.0,968.5 L1285.0,977.0 L1290.0,991.6 L1295.0,998.1 L1300.0,1004.2 L1305.0,1009.5 L1310.0,1014.9 L1315.0,1022.5 L1320.0,1031.0 L1325.0,1041.0 L1330.0,1050.1 L1335.0,1055.6 L1340.0,1061.2 L1345.0,1067.2 L1350.0,1073.9 L1355.0,1083.1 L1360.0,1093.0 L1365.0,1096.8 L1370.0,1099.1 L1375.0,1102.5 L1380.0,1106.7 L1385.0,1110.8 L1390.0,1115.1 L1395.0,1119.3 L1400.0,1123.1 L1405.0,1126.6 L1410.0,1130.2 L1415.0,1133.7 L1420.0,1137.1 L1425.0,1140.6 L1430.0,1144.0 L1435.0,1149.8 L1440.0,1155.7 L1445.0,1160.6 L1450.0,1164.9 L1455.0,1169.1 L1460.0,1173.4 L1465.0,1177.8 L1470.0,1182.3 L1475.0,1186.8 L1480.0,1191.3 L1485.0,1195.1 L1490.0,1198.0 L1495.0,1200.8 L1500.0,1203.6 L1505.0,1206.4 L1510.0,1209.9 L1515.0,1213.4 L1520.0,1217.0 L1525.0,1220.6 L1530.0,1224.0 L1535.0,1227.5 L1540.0,1230.9 L1545.0,1234.3 L1550.0,1238.1 L1555.0,1243.8 L1560.0,1249.4 L1565.0,1255.0 L1570.0,1256.1 L1575.0,1257.3 L1580.0,1258.4 L1585.0,1259.5 L1590.0,1262.7 L1595.0,1267.2 L1600.0,1271.7 L1605.0,1276.2 L1610.0,1279.9 L1615.0,1283.0 L1620.0,1286.0 L1625.0,1289.1 L1630.0,1291.6 L1635.0,1293.1 L1640.0,1294.7 L1645.0,1296.2 L1650.0,1297.7 L1655.0,1300.4 L1660.0,1303.3 L1665.0,1306.2 L1670.0,1310.0 L1675.0,1315.0 L1680.0,1320.0 L1685.0,1325.0 L1690.0,1330.8" fill="none" stroke="#4DBEEE" stroke-opacity="0.25" stroke-width="8.5" stroke-linejoin="round"/><path d="M327.0,271.0 L345.0,268.0 L355.0,278.0 L362.0,270.0 L371.0,265.0 L378.0,272.0 L390.0,280.0 L405.0,282.0 L420.0,290.0 L450.0,290.0 L468.0,290.0 L480.0,292.0 L492.0,290.0 L497.0,300.0 L510.0,312.0 L521.0,316.0 L530.0,320.0 L541.0,328.0 L560.0,338.0 L569.0,338.0 L590.0,335.0 L614.0,336.0 L629.0,338.0 L645.0,340.0 L663.0,357.0 L702.0,359.0 L710.0,370.0 L720.0,390.0 L740.0,405.0 L765.0,420.0 L783.0,420.0 L790.0,432.0 L799.0,455.0 L814.0,466.0 L828.0,480.0 L837.0,495.0 L851.0,498.0 L857.0,505.0 L872.0,518.0 L878.0,518.0 L882.0,532.0 L886.0,570.0 L893.0,590.0 L895.0,593.0 L900.0,591.5 L905.0,589.9 L910.0,585.5 L915.0,576.6 L920.0,567.8 L925.0,576.8 L930.0,590.3 L935.0,600.7 L940.0,610.2 L945.0,616.1 L950.0,616.4 L955.0,616.8 L960.0,617.1 L965.0,617.7 L970.0,618.3 L975.0,618.9 L980.0,625.8 L985.0,634.3 L990.0,641.2 L995.0,647.7 L1000.0,653.0 L1005.0,658.0 L1010.0,662.0 L1015.0,662.0 L1020.0,662.0 L1025.0,672.0 L1030.0,680.3 L1035.0,688.7 L1040.0,694.3 L1045.0,698.2 L1050.0,702.0 L1055.0,709.3 L1060.0,716.6 L1065.0,725.4 L1070.0,736.6 L1075.0,747.0 L1080.0,757.0 L1085.0,769.0 L1090.0,779.5 L1095.0,783.1 L1100.0,786.8 L1105.0,792.8 L1110.0,802.1 L1115.0,812.8 L1120.0,823.8 L1125.0,844.4 L1130.0,849.8 L1135.0,850.8 L1140.0,851.8 L1145.0,854.1 L1150.0,856.8 L1155.0,859.5 L1160.0,862.2 L1165.0,864.8 L1170.0,867.8 L1175.0,871.9 L1180.0,875.9 L1185.0,880.0 L1190.0,884.3 L1195.0,888.6 L1200.0,893.0 L1205.0,898.0 L1210.0,902.5 L1215.0,905.0 L1220.0,907.5 L1225.0,910.0 L1230.0,914.0 L1235.0,918.0 L1240.0,924.0 L1245.0,930.0 L1250.0,933.0 L1255.0,936.0 L1260.0,948.0 L1265.0,966.0 L1270.0,966.8 L1275.0,967.7 L1280.0,968.5 L1285.0,977.0 L1290.0,991.6 L1295.0,998.1 L1300.0,1004.2 L1305.0,1009.5 L1310.0,1014.9 L1315.0,1022.5 L1320.0,1031.0 L1325.0,1041.0 L1330.0,1050.1 L1335.0,1055.6 L1340.0,1061.2 L1345.0,1067.2 L1350.0,1073.9 L1355.0,1083.1 L1360.0,1093.0 L1365.0,1096.8 L1370.0,1099.1 L1375.0,1102.5 L1380.0,1106.7 L1385.0,1110.8 L1390.0,1115.1 L1395.0,1119.3 L1400.0,1123.1 L1405.0,1126.6 L1410.0,1130.2 L1415.0,1133.7 L1420.0,1137.1 L1425.0,1140.6 L1430.0,1144.0 L1435.0,1149.8 L1440.0,1155.7 L1445.0,1160.6 L1450.0,1164.9 L1455.0,1169.1 L1460.0,1173.4 L1465.0,1177.8 L1470.0,1182.3 L1475.0,1186.8 L1480.0,1191.3 L1485.0,1195.1 L1490.0,1198.0 L1495.0,1200.8 L1500.0,1203.6 L1505.0,1206.4 L1510.0,1209.9 L1515.0,1213.4 L1520.0,1217.0 L1525.0,1220.6 L1530.0,1224.0 L1535.0,1227.5 L1540.0,1230.9 L1545.0,1234.3 L1550.0,1238.1 L1555.0,1243.8 L1560.0,1249.4 L1565.0,1255.0 L1570.0,1256.1 L1575.0,1257.3 L1580.0,1258.4 L1585.0,1259.5 L1590.0,1262.7 L1595.0,1267.2 L1600.0,1271.7 L1605.0,1276.2 L1610.0,1279.9 L1615.0,1283.0 L1620.0,1286.0 L1625.0,1289.1 L1630.0,1291.6 L1635.0,1293.1 L1640.0,1294.7 L1645.0,1296.2 L1650.0,1297.7 L1655.0,1300.4 L1660.0,1303.3 L1665.0,1306.2 L1670.0,1310.0 L1675.0,1315.0 L1680.0,1320.0 L1685.0,1325.0 L1690.0,1330.8" fill="none" stroke="#4DBEEE" stroke-width="4.6" stroke-linejoin="round"/><path d="M327.0,270.0 L338.0,262.0 L344.0,255.0 L350.0,268.0 L358.0,283.0 L366.0,275.0 L373.0,255.0 L380.0,262.0 L405.0,264.0 L415.0,268.0 L434.0,266.0 L459.0,268.0 L468.0,276.0 L476.0,292.0 L482.0,296.0 L490.0,280.0 L497.0,266.0 L502.0,270.0 L510.0,282.0 L520.0,287.0 L525.0,291.0 L535.0,305.0 L554.0,310.0 L575.0,313.0 L594.0,318.0 L600.0,340.0 L609.0,350.0 L629.0,345.0 L650.0,352.0 L663.0,367.0 L677.0,375.0 L692.0,380.0 L700.0,368.0 L707.0,378.0 L721.0,392.0 L735.0,400.0 L750.0,420.0 L760.0,430.0 L765.0,450.0 L780.0,455.0 L804.0,495.0 L822.0,506.0 L840.0,512.0 L853.0,519.0 L861.0,535.0 L881.0,546.0 L886.0,600.0 L893.0,622.0 L895.0,624.0 L900.0,626.0 L905.0,628.0 L910.0,622.4 L915.0,616.8 L920.0,611.1 L925.0,618.9 L930.0,630.0 L935.0,635.0 L940.0,640.0 L945.0,639.7 L950.0,639.5 L955.0,639.2 L960.0,640.8 L965.0,649.9 L970.0,659.0 L975.0,674.5 L980.0,682.0 L985.0,684.8 L990.0,688.0 L995.0,693.0 L1000.0,698.0 L1005.0,701.9 L1010.0,704.1 L1015.0,706.2 L1020.0,709.8 L1025.0,718.7 L1030.0,726.9 L1035.0,734.2 L1040.0,740.6 L1045.0,744.4 L1050.0,750.5 L1055.0,757.6 L1060.0,765.4 L1065.0,773.1 L1070.0,783.3 L1075.0,792.8 L1080.0,803.2 L1085.0,806.8 L1090.0,811.1 L1095.0,821.1 L1100.0,829.3 L1105.0,834.9 L1110.0,843.5 L1115.0,854.6 L1120.0,869.5 L1125.0,888.9 L1130.0,890.1 L1135.0,892.7 L1140.0,895.3 L1145.0,897.9 L1150.0,900.2 L1155.0,902.2 L1160.0,904.1 L1165.0,906.1 L1170.0,908.1 L1175.0,910.0 L1180.0,912.0 L1185.0,917.0 L1190.0,922.0 L1195.0,927.0 L1200.0,932.0 L1205.0,948.3 L1210.0,950.0 L1215.0,951.7 L1220.0,947.3 L1225.0,947.2 L1230.0,950.9 L1235.0,954.6 L1240.0,958.3 L1245.0,965.7 L1250.0,978.0 L1255.0,992.5 L1260.0,1005.0 L1265.0,1015.2 L1270.0,1016.0 L1275.0,1008.2 L1280.0,1004.7 L1285.0,1018.0 L1290.0,1023.6 L1295.0,1029.3 L1300.0,1035.6 L1305.0,1042.0 L1310.0,1049.7 L1315.0,1057.3 L1320.0,1065.0 L1325.0,1070.0 L1330.0,1075.0 L1335.0,1082.0 L1340.0,1089.0 L1345.0,1096.5 L1350.0,1104.2 L1355.0,1112.1 L1360.0,1120.0 L1365.0,1125.0 L1370.0,1130.0 L1375.0,1136.2 L1380.0,1138.1 L1385.0,1138.5 L1390.0,1141.5 L1395.0,1145.8 L1400.0,1149.2 L1405.0,1153.7 L1410.0,1157.5 L1415.0,1160.8 L1420.0,1167.0 L1425.0,1173.4 L1430.0,1178.1 L1435.0,1182.1 L1440.0,1185.5 L1445.0,1187.5 L1450.0,1190.5 L1455.0,1196.0 L1460.0,1200.1 L1465.0,1202.4 L1470.0,1207.2 L1475.0,1213.0 L1480.0,1217.2 L1485.0,1221.6 L1490.0,1226.5 L1495.0,1230.3 L1500.0,1234.5 L1505.0,1238.5 L1510.0,1240.2 L1515.0,1242.9 L1520.0,1246.8 L1525.0,1249.3 L1530.0,1252.2 L1535.0,1256.0 L1540.0,1259.0 L1545.0,1261.7 L1550.0,1264.9 L1555.0,1269.5 L1560.0,1273.5 L1565.0,1275.3 L1570.0,1276.6 L1575.0,1279.3 L1580.0,1281.5 L1585.0,1284.7 L1590.0,1289.2 L1595.0,1293.7 L1600.0,1298.1 L1605.0,1302.0 L1610.0,1304.4 L1615.0,1305.7 L1620.0,1308.0 L1625.0,1310.2 L1630.0,1311.6 L1635.0,1314.0 L1640.0,1317.1 L1645.0,1320.3 L1650.0,1323.2 L1655.0,1326.4 L1660.0,1329.1 L1665.0,1330.6 L1670.0,1335.6 L1675.0,1341.6 L1680.0,1346.5 L1685.0,1348.6 L1690.0,1348.4" fill="none" stroke="#A2142F" stroke-opacity="0.25" stroke-width="8.5" stroke-linejoin="round"/><path d="M327.0,270.0 L338.0,262.0 L344.0,255.0 L350.0,268.0 L358.0,283.0 L366.0,275.0 L373.0,255.0 L380.0,262.0 L405.0,264.0 L415.0,268.0 L434.0,266.0 L459.0,268.0 L468.0,276.0 L476.0,292.0 L482.0,296.0 L490.0,280.0 L497.0,266.0 L502.0,270.0 L510.0,282.0 L520.0,287.0 L525.0,291.0 L535.0,305.0 L554.0,310.0 L575.0,313.0 L594.0,318.0 L600.0,340.0 L609.0,350.0 L629.0,345.0 L650.0,352.0 L663.0,367.0 L677.0,375.0 L692.0,380.0 L700.0,368.0 L707.0,378.0 L721.0,392.0 L735.0,400.0 L750.0,420.0 L760.0,430.0 L765.0,450.0 L780.0,455.0 L804.0,495.0 L822.0,506.0 L840.0,512.0 L853.0,519.0 L861.0,535.0 L881.0,546.0 L886.0,600.0 L893.0,622.0 L895.0,624.0 L900.0,626.0 L905.0,628.0 L910.0,622.4 L915.0,616.8 L920.0,611.1 L925.0,618.9 L930.0,630.0 L935.0,635.0 L940.0,640.0 L945.0,639.7 L950.0,639.5 L955.0,639.2 L960.0,640.8 L965.0,649.9 L970.0,659.0 L975.0,674.5 L980.0,682.0 L985.0,684.8 L990.0,688.0 L995.0,693.0 L1000.0,698.0 L1005.0,701.9 L1010.0,704.1 L1015.0,706.2 L1020.0,709.8 L1025.0,718.7 L1030.0,726.9 L1035.0,734.2 L1040.0,740.6 L1045.0,744.4 L1050.0,750.5 L1055.0,757.6 L1060.0,765.4 L1065.0,773.1 L1070.0,783.3 L1075.0,792.8 L1080.0,803.2 L1085.0,806.8 L1090.0,811.1 L1095.0,821.1 L1100.0,829.3 L1105.0,834.9 L1110.0,843.5 L1115.0,854.6 L1120.0,869.5 L1125.0,888.9 L1130.0,890.1 L1135.0,892.7 L1140.0,895.3 L1145.0,897.9 L1150.0,900.2 L1155.0,902.2 L1160.0,904.1 L1165.0,906.1 L1170.0,908.1 L1175.0,910.0 L1180.0,912.0 L1185.0,917.0 L1190.0,922.0 L1195.0,927.0 L1200.0,932.0 L1205.0,948.3 L1210.0,950.0 L1215.0,951.7 L1220.0,947.3 L1225.0,947.2 L1230.0,950.9 L1235.0,954.6 L1240.0,958.3 L1245.0,965.7 L1250.0,978.0 L1255.0,992.5 L1260.0,1005.0 L1265.0,1015.2 L1270.0,1016.0 L1275.0,1008.2 L1280.0,1004.7 L1285.0,1018.0 L1290.0,1023.6 L1295.0,1029.3 L1300.0,1035.6 L1305.0,1042.0 L1310.0,1049.7 L1315.0,1057.3 L1320.0,1065.0 L1325.0,1070.0 L1330.0,1075.0 L1335.0,1082.0 L1340.0,1089.0 L1345.0,1096.5 L1350.0,1104.2 L1355.0,1112.1 L1360.0,1120.0 L1365.0,1125.0 L1370.0,1130.0 L1375.0,1136.2 L1380.0,1138.1 L1385.0,1138.5 L1390.0,1141.5 L1395.0,1145.8 L1400.0,1149.2 L1405.0,1153.7 L1410.0,1157.5 L1415.0,1160.8 L1420.0,1167.0 L1425.0,1173.4 L1430.0,1178.1 L1435.0,1182.1 L1440.0,1185.5 L1445.0,1187.5 L1450.0,1190.5 L1455.0,1196.0 L1460.0,1200.1 L1465.0,1202.4 L1470.0,1207.2 L1475.0,1213.0 L1480.0,1217.2 L1485.0,1221.6 L1490.0,1226.5 L1495.0,1230.3 L1500.0,1234.5 L1505.0,1238.5 L1510.0,1240.2 L1515.0,1242.9 L1520.0,1246.8 L1525.0,1249.3 L1530.0,1252.2 L1535.0,1256.0 L1540.0,1259.0 L1545.0,1261.7 L1550.0,1264.9 L1555.0,1269.5 L1560.0,1273.5 L1565.0,1275.3 L1570.0,1276.6 L1575.0,1279.3 L1580.0,1281.5 L1585.0,1284.7 L1590.0,1289.2 L1595.0,1293.7 L1600.0,1298.1 L1605.0,1302.0 L1610.0,1304.4 L1615.0,1305.7 L1620.0,1308.0 L1625.0,1310.2 L1630.0,1311.6 L1635.0,1314.0 L1640.0,1317.1 L1645.0,1320.3 L1650.0,1323.2 L1655.0,1326.4 L1660.0,1329.1 L1665.0,1330.6 L1670.0,1335.6 L1675.0,1341.6 L1680.0,1346.5 L1685.0,1348.6 L1690.0,1348.4" fill="none" stroke="#A2142F" stroke-width="4.6" stroke-linejoin="round"/><path d="M327.0,271.0 L346.0,272.0 L354.0,285.0 L360.0,292.0 L363.0,272.0 L367.0,252.0 L373.0,241.0 L378.0,252.0 L385.0,259.0 L405.0,262.0 L412.0,272.0 L430.0,276.0 L450.0,276.0 L466.0,278.0 L470.0,287.0 L476.0,302.0 L482.0,310.0 L487.0,300.0 L491.0,272.0 L494.0,266.0 L498.0,276.0 L503.0,290.0 L510.0,299.0 L525.0,304.0 L531.0,314.0 L560.0,315.0 L590.0,318.0 L595.0,320.0 L600.0,340.0 L608.0,340.0 L614.0,325.0 L620.0,322.0 L625.0,340.0 L632.0,355.0 L640.0,370.0 L648.0,376.0 L660.0,380.0 L672.0,386.0 L690.0,390.0 L707.0,392.0 L722.0,397.0 L735.0,402.0 L742.0,405.0 L745.0,420.0 L750.0,446.0 L755.0,458.0 L770.0,460.0 L785.0,449.0 L795.0,461.0 L805.0,478.0 L815.0,491.0 L828.0,502.0 L835.0,515.0 L842.0,528.0 L853.0,542.0 L861.0,557.0 L880.0,558.0 L884.0,565.0 L886.0,620.0 L893.0,626.0 L895.0,625.7 L900.0,624.8 L905.0,624.0 L910.0,614.3 L915.0,604.6 L920.0,594.9 L925.0,606.0 L930.0,621.2 L935.0,632.3 L940.0,642.1 L945.0,649.8 L950.0,655.6 L955.0,653.5 L960.0,651.5 L965.0,649.4 L970.0,652.6 L975.0,657.1 L980.0,661.6 L985.0,666.1 L990.0,675.8 L995.0,686.8 L1000.0,690.5 L1005.0,692.5 L1010.0,691.0 L1015.0,676.0 L1020.0,680.5 L1025.0,685.0 L1030.0,704.3 L1035.0,713.8 L1040.0,716.8 L1045.0,723.4 L1050.0,732.5 L1055.0,741.6 L1060.0,752.3 L1065.0,765.7 L1070.0,773.7 L1075.0,778.3 L1080.0,783.4 L1085.0,789.2 L1090.0,795.1 L1095.0,801.0 L1100.0,807.4 L1105.0,813.9 L1110.0,820.9 L1115.0,830.3 L1120.0,844.0 L1125.0,863.2 L1130.0,874.0 L1135.0,874.0 L1140.0,874.0 L1145.0,875.3 L1150.0,877.4 L1155.0,879.6 L1160.0,882.7 L1165.0,886.4 L1170.0,890.4 L1175.0,897.1 L1180.0,904.5 L1185.0,907.0 L1190.0,909.5 L1195.0,912.0 L1200.0,915.8 L1205.0,923.3 L1210.0,924.6 L1215.0,925.9 L1220.0,927.2 L1225.0,928.5 L1230.0,935.9 L1235.0,945.5 L1240.0,947.8 L1245.0,950.1 L1250.0,954.0 L1255.0,964.0 L1260.0,976.7 L1265.0,990.0 L1270.0,990.0 L1275.0,990.0 L1280.0,990.0 L1285.0,999.6 L1290.0,1010.0 L1295.0,1016.7 L1300.0,1025.0 L1305.0,1034.0 L1310.0,1044.0 L1315.0,1051.0 L1320.0,1056.4 L1325.0,1058.4 L1330.0,1060.6 L1335.0,1063.3 L1340.0,1069.7 L1345.0,1080.9 L1350.0,1090.1 L1355.0,1104.0 L1360.0,1112.5 L1365.0,1118.3 L1370.0,1120.0 L1375.0,1121.7 L1380.0,1123.4 L1385.0,1125.4 L1390.0,1127.8 L1395.0,1131.5 L1400.0,1135.6 L1405.0,1140.0 L1410.0,1143.0 L1415.0,1146.0 L1420.0,1153.7 L1425.0,1161.4 L1430.0,1167.2 L1435.0,1170.3 L1440.0,1173.4 L1445.0,1177.0 L1450.0,1180.8 L1455.0,1184.6 L1460.0,1188.4 L1465.0,1192.2 L1470.0,1197.4 L1475.0,1202.9 L1480.0,1208.0 L1485.0,1213.0 L1490.0,1218.0 L1495.0,1223.7 L1500.0,1229.6 L1505.0,1233.2 L1510.0,1235.2 L1515.0,1237.2 L1520.0,1239.2 L1525.0,1241.2 L1530.0,1243.2 L1535.0,1246.3 L1540.0,1250.2 L1545.0,1254.0 L1550.0,1258.0 L1555.0,1262.0 L1560.0,1266.0 L1565.0,1270.0 L1570.0,1272.4 L1575.0,1274.7 L1580.0,1277.1 L1585.0,1281.0 L1590.0,1286.0 L1595.0,1291.0 L1600.0,1296.0 L1605.0,1299.3 L1610.0,1301.4 L1615.0,1303.6 L1620.0,1305.7 L1625.0,1307.9 L1630.0,1310.3 L1635.0,1312.6 L1640.0,1315.0 L1645.0,1317.1 L1650.0,1319.2 L1655.0,1321.2 L1660.0,1323.3 L1665.0,1326.1 L1670.0,1331.7 L1675.0,1337.0 L1680.0,1342.0 L1685.0,1347.0 L1690.0,1350.0" fill="none" stroke="#1010F0" stroke-opacity="0.25" stroke-width="8.5" stroke-linejoin="round"/><path d="M327.0,271.0 L346.0,272.0 L354.0,285.0 L360.0,292.0 L363.0,272.0 L367.0,252.0 L373.0,241.0 L378.0,252.0 L385.0,259.0 L405.0,262.0 L412.0,272.0 L430.0,276.0 L450.0,276.0 L466.0,278.0 L470.0,287.0 L476.0,302.0 L482.0,310.0 L487.0,300.0 L491.0,272.0 L494.0,266.0 L498.0,276.0 L503.0,290.0 L510.0,299.0 L525.0,304.0 L531.0,314.0 L560.0,315.0 L590.0,318.0 L595.0,320.0 L600.0,340.0 L608.0,340.0 L614.0,325.0 L620.0,322.0 L625.0,340.0 L632.0,355.0 L640.0,370.0 L648.0,376.0 L660.0,380.0 L672.0,386.0 L690.0,390.0 L707.0,392.0 L722.0,397.0 L735.0,402.0 L742.0,405.0 L745.0,420.0 L750.0,446.0 L755.0,458.0 L770.0,460.0 L785.0,449.0 L795.0,461.0 L805.0,478.0 L815.0,491.0 L828.0,502.0 L835.0,515.0 L842.0,528.0 L853.0,542.0 L861.0,557.0 L880.0,558.0 L884.0,565.0 L886.0,620.0 L893.0,626.0 L895.0,625.7 L900.0,624.8 L905.0,624.0 L910.0,614.3 L915.0,604.6 L920.0,594.9 L925.0,606.0 L930.0,621.2 L935.0,632.3 L940.0,642.1 L945.0,649.8 L950.0,655.6 L955.0,653.5 L960.0,651.5 L965.0,649.4 L970.0,652.6 L975.0,657.1 L980.0,661.6 L985.0,666.1 L990.0,675.8 L995.0,686.8 L1000.0,690.5 L1005.0,692.5 L1010.0,691.0 L1015.0,676.0 L1020.0,680.5 L1025.0,685.0 L1030.0,704.3 L1035.0,713.8 L1040.0,716.8 L1045.0,723.4 L1050.0,732.5 L1055.0,741.6 L1060.0,752.3 L1065.0,765.7 L1070.0,773.7 L1075.0,778.3 L1080.0,783.4 L1085.0,789.2 L1090.0,795.1 L1095.0,801.0 L1100.0,807.4 L1105.0,813.9 L1110.0,820.9 L1115.0,830.3 L1120.0,844.0 L1125.0,863.2 L1130.0,874.0 L1135.0,874.0 L1140.0,874.0 L1145.0,875.3 L1150.0,877.4 L1155.0,879.6 L1160.0,882.7 L1165.0,886.4 L1170.0,890.4 L1175.0,897.1 L1180.0,904.5 L1185.0,907.0 L1190.0,909.5 L1195.0,912.0 L1200.0,915.8 L1205.0,923.3 L1210.0,924.6 L1215.0,925.9 L1220.0,927.2 L1225.0,928.5 L1230.0,935.9 L1235.0,945.5 L1240.0,947.8 L1245.0,950.1 L1250.0,954.0 L1255.0,964.0 L1260.0,976.7 L1265.0,990.0 L1270.0,990.0 L1275.0,990.0 L1280.0,990.0 L1285.0,999.6 L1290.0,1010.0 L1295.0,1016.7 L1300.0,1025.0 L1305.0,1034.0 L1310.0,1044.0 L1315.0,1051.0 L1320.0,1056.4 L1325.0,1058.4 L1330.0,1060.6 L1335.0,1063.3 L1340.0,1069.7 L1345.0,1080.9 L1350.0,1090.1 L1355.0,1104.0 L1360.0,1112.5 L1365.0,1118.3 L1370.0,1120.0 L1375.0,1121.7 L1380.0,1123.4 L1385.0,1125.4 L1390.0,1127.8 L1395.0,1131.5 L1400.0,1135.6 L1405.0,1140.0 L1410.0,1143.0 L1415.0,1146.0 L1420.0,1153.7 L1425.0,1161.4 L1430.0,1167.2 L1435.0,1170.3 L1440.0,1173.4 L1445.0,1177.0 L1450.0,1180.8 L1455.0,1184.6 L1460.0,1188.4 L1465.0,1192.2 L1470.0,1197.4 L1475.0,1202.9 L1480.0,1208.0 L1485.0,1213.0 L1490.0,1218.0 L1495.0,1223.7 L1500.0,1229.6 L1505.0,1233.2 L1510.0,1235.2 L1515.0,1237.2 L1520.0,1239.2 L1525.0,1241.2 L1530.0,1243.2 L1535.0,1246.3 L1540.0,1250.2 L1545.0,1254.0 L1550.0,1258.0 L1555.0,1262.0 L1560.0,1266.0 L1565.0,1270.0 L1570.0,1272.4 L1575.0,1274.7 L1580.0,1277.1 L1585.0,1281.0 L1590.0,1286.0 L1595.0,1291.0 L1600.0,1296.0 L1605.0,1299.3 L1610.0,1301.4 L1615.0,1303.6 L1620.0,1305.7 L1625.0,1307.9 L1630.0,1310.3 L1635.0,1312.6 L1640.0,1315.0 L1645.0,1317.1 L1650.0,1319.2 L1655.0,1321.2 L1660.0,1323.3 L1665.0,1326.1 L1670.0,1331.7 L1675.0,1337.0 L1680.0,1342.0 L1685.0,1347.0 L1690.0,1350.0" fill="none" stroke="#1010F0" stroke-width="4.6" stroke-linejoin="round"/></g>
<rect x="235" y="26" width="1551" height="4" fill="#f3f3f3"/>
<rect x="235" y="30" width="1551" height="5" fill="#464646"/>
<rect x="239" y="35" width="1543" height="5" fill="#b4b4b4"/>
<rect x="235" y="30" width="4.5" height="1455" fill="#727272"/>
<rect x="239.5" y="35" width="4.5" height="1445" fill="#a0a0a0"/>
<rect x="1777" y="35" width="5" height="1445" fill="#9c9c9c"/>
<rect x="1782" y="30" width="4" height="1455" fill="#555555"/>
<rect x="239" y="1475" width="1543" height="5" fill="#dadada"/>
<rect x="235" y="1480" width="1551" height="5" fill="#4a4a4a"/>
<rect x="235" y="1485" width="1551" height="4" fill="#e8e8e8"/>
<rect x="356.2" y="35" width="5" height="15" fill="#444"/><rect x="356.2" y="50" width="5" height="5" fill="#999"/><rect x="356.2" y="1465" width="5" height="15" fill="#444"/><rect x="549.4" y="35" width="5" height="15" fill="#444"/><rect x="549.4" y="50" width="5" height="5" fill="#999"/><rect x="549.4" y="1465" width="5" height="15" fill="#444"/><rect x="742.5" y="35" width="5" height="15" fill="#444"/><rect x="742.5" y="50" width="5" height="5" fill="#999"/><rect x="742.5" y="1465" width="5" height="15" fill="#444"/><rect x="935.7" y="35" width="5" height="15" fill="#444"/><rect x="935.7" y="50" width="5" height="5" fill="#999"/><rect x="935.7" y="1465" width="5" height="15" fill="#444"/><rect x="1128.9" y="35" width="5" height="15" fill="#444"/><rect x="1128.9" y="50" width="5" height="5" fill="#999"/><rect x="1128.9" y="1465" width="5" height="15" fill="#444"/><rect x="1322.0" y="35" width="5" height="15" fill="#444"/><rect x="1322.0" y="50" width="5" height="5" fill="#999"/><rect x="1322.0" y="1465" width="5" height="15" fill="#444"/><rect x="1515.2" y="35" width="5" height="15" fill="#444"/><rect x="1515.2" y="50" width="5" height="5" fill="#999"/><rect x="1515.2" y="1465" width="5" height="15" fill="#444"/><rect x="1708.4" y="35" width="5" height="15" fill="#444"/><rect x="1708.4" y="50" width="5" height="5" fill="#999"/><rect x="1708.4" y="1465" width="5" height="15" fill="#444"/><rect x="239" y="1477.5" width="15" height="5" fill="#555"/><rect x="254" y="1477.5" width="5" height="5" fill="#999"/><rect x="1762" y="1477.5" width="15" height="5" fill="#555"/><rect x="239" y="1235.8" width="15" height="5" fill="#555"/><rect x="254" y="1235.8" width="5" height="5" fill="#999"/><rect x="1762" y="1235.8" width="15" height="5" fill="#555"/><rect x="239" y="994.1" width="15" height="5" fill="#555"/><rect x="254" y="994.1" width="5" height="5" fill="#999"/><rect x="1762" y="994.1" width="15" height="5" fill="#555"/><rect x="239" y="752.4" width="15" height="5" fill="#555"/><rect x="254" y="752.4" width="5" height="5" fill="#999"/><rect x="1762" y="752.4" width="15" height="5" fill="#555"/><rect x="239" y="510.7" width="15" height="5" fill="#555"/><rect x="254" y="510.7" width="5" height="5" fill="#999"/><rect x="1762" y="510.7" width="15" height="5" fill="#555"/><rect x="239" y="269.0" width="15" height="5" fill="#555"/><rect x="254" y="269.0" width="5" height="5" fill="#999"/><rect x="1762" y="269.0" width="15" height="5" fill="#555"/>
<g font-family="Liberation Sans, Arial, sans-serif" font-size="61" fill="#333333"><text x="358.7" y="1571" text-anchor="middle">1.5</text><text x="551.9" y="1571" text-anchor="middle">1.52</text><text x="745.0" y="1571" text-anchor="middle">1.54</text><text x="938.2" y="1571" text-anchor="middle">1.56</text><text x="1131.4" y="1571" text-anchor="middle">1.58</text><text x="1324.5" y="1571" text-anchor="middle">1.6</text><text x="1517.7" y="1571" text-anchor="middle">1.62</text><text x="1710.9" y="1571" text-anchor="middle">1.64</text><text x="213" y="1505.0" text-anchor="end">0</text><text x="213" y="1263.3" text-anchor="end">0.2</text><text x="213" y="1021.6" text-anchor="end">0.4</text><text x="213" y="779.9" text-anchor="end">0.6</text><text x="213" y="538.2" text-anchor="end">0.8</text><text x="213" y="296.5" text-anchor="end">1</text></g>
<text y="1680" font-family="Liberation Sans, Arial, sans-serif" font-size="68.6" fill="#2e2e2e"><tspan x="497">Free Space Wavelength</tspan><tspan x="1247">(</tspan><tspan x="1314">m</tspan><tspan x="1372">)</tspan></text>
<text transform="translate(1279,1680) scale(1.2,1)" font-family="Liberation Serif, serif" font-style="italic" font-size="66" fill="#2e2e2e">μ</text>
<text transform="translate(89,1232) rotate(-90)" x="0" y="0" font-family="Liberation Sans, Arial, sans-serif" font-size="68" fill="#2e2e2e">Normalized Responsivity (A/W<tspan dx="6">)</tspan></text>
<g font-family="Liberation Sans, Arial, sans-serif" font-size="52" fill="#363636"><rect x="1154" y="113" width="555" height="559" fill="#ffffff"/><rect x="1154" y="113" width="555" height="5" fill="#aaaaaa"/><rect x="1154" y="118" width="550" height="5" fill="#707070"/><rect x="1154" y="113" width="5" height="559" fill="#3a3a3a"/><rect x="1699" y="118" width="5" height="554" fill="#5e5e5e"/><rect x="1704" y="113" width="5" height="559" fill="#d0d0d0"/><rect x="1159" y="663" width="540" height="4.5" fill="#ececec"/><rect x="1154" y="667" width="550" height="5" fill="#444444"/><rect x="1193" y="154.3" width="151" height="3" fill="#b8dcf0"/><rect x="1193" y="157.3" width="151" height="4.6" fill="#3a8ac8"/><text x="1355" y="180.0">0 krad(Si)</text><rect x="1193" y="221.7" width="151" height="3" fill="#f0c8b0"/><rect x="1193" y="224.7" width="151" height="4.6" fill="#e05a28"/><text x="1355" y="247.4">10 krad(Si)</text><rect x="1193" y="289.2" width="151" height="3" fill="#f5dca0"/><rect x="1193" y="292.2" width="151" height="4.6" fill="#f0c060"/><text x="1355" y="314.9">20 krad(Si)</text><rect x="1193" y="356.6" width="151" height="3" fill="#d0b0d8"/><rect x="1193" y="359.6" width="151" height="4.6" fill="#a070b0"/><text x="1355" y="382.3">50 krad(Si)</text><rect x="1193" y="424.0" width="151" height="3" fill="#d0e0b8"/><rect x="1193" y="427.0" width="151" height="4.6" fill="#90b860"/><text x="1355" y="449.7">100 krad(Si)</text><rect x="1193" y="491.5" width="151" height="3" fill="#c8e8f5"/><rect x="1193" y="494.5" width="151" height="4.6" fill="#50b8e8"/><text x="1355" y="517.2">200 krad(Si)</text><rect x="1193" y="558.9" width="151" height="3" fill="#e0b0b8"/><rect x="1193" y="561.9" width="151" height="4.6" fill="#b02040"/><text x="1355" y="584.6">500 krad(Si)</text><rect x="1193" y="626.3" width="151" height="3" fill="#b8b8f0"/><rect x="1193" y="629.3" width="151" height="4.6" fill="#5050f0"/><text x="1355" y="652.0">1000 krad(Si)</text></g>
</svg></body></html>
